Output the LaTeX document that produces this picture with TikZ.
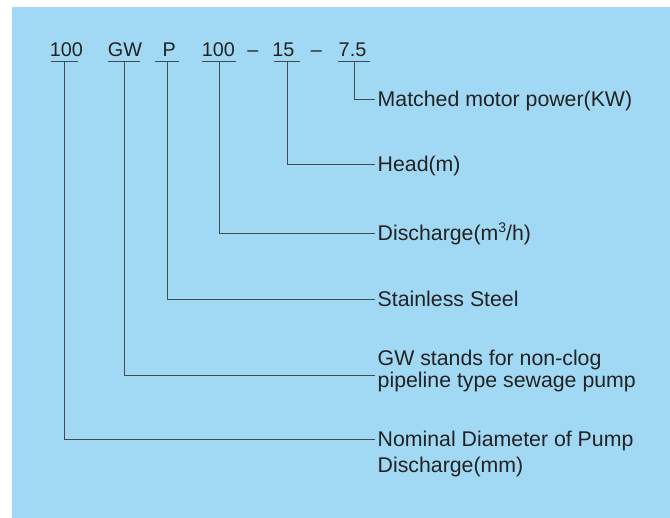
\documentclass[tikz,border=0pt]{standalone}
\usepackage{fontspec}
\setmainfont{Liberation Sans}
\definecolor{panel}{HTML}{A1D9F4}
\definecolor{ink}{HTML}{222222}
\definecolor{leadcol}{HTML}{464A4F}
\newcommand{\cubed}{\raisebox{0.42em}{\fontsize{14bp}{14bp}\selectfont 3}}
\begin{document}
\begin{tikzpicture}[x=1bp,y=-1bp,
  code/.style={anchor=base,inner sep=0pt,text=ink,font=\fontsize{19.8bp}{22bp}\selectfont},
  uline/.style={inner sep=0pt,minimum height=0pt,draw=none},
  lbl/.style={anchor=base west,inner xsep=2.5bp,inner ysep=0pt,text=ink,font=\fontsize{21.3bp}{24bp}\selectfont},
  lead/.style={draw=leadcol,line width=1bp}]
\useasboundingbox (0,0) rectangle (670,518);
\fill[panel] (12,7) rectangle (670,518);

% model code
\node[code] (cDia)  at (66.3,56.7)  {100};
\node[code] (cGW)   at (125,56.7)   {GW};
\node[code] (cP)    at (169.3,56.7) {P};
\node[code] (cQ)    at (218.3,56.7) {100};
\node[code] (dA)    at (252.8,56.7) {–};
\node[code] (cH)    at (283.3,56.7) {15};
\node[code] (dB)    at (316.5,56.7) {–};
\node[code] (cKW)   at (352.5,56.7) {7.5};

% underlines under each part of the code
\node[uline,minimum width=27bp] (uDia) at (64.5,61.5)  {};
\node[uline,minimum width=31bp] (uGW)  at (124,61.5)   {};
\node[uline,minimum width=24bp] (uP)   at (167,61.5)   {};
\node[uline,minimum width=33bp] (uQ)   at (219,61.5)   {};
\node[uline,minimum width=25bp] (uH)   at (287,61.5)   {};
\node[uline,minimum width=31bp] (uKW)  at (354,61.5)   {};
\foreach \u in {uDia,uGW,uP,uQ,uH,uKW}
  \draw[lead] (\u.west) -- (\u.east);

% explanations
\node[lbl] (lKW)   at (375,106.7) {Matched motor power(KW)};
\node[lbl] (lH)    at (375,171.7) {Head(m)};
\node[lbl] (lQ)    at (375,241)   {Discharge(m\cubed/h)};
\node[lbl] (lP)    at (375,306)   {Stainless Steel};
\node[lbl] (lGWa)  at (375,365.7) {GW stands for non-clog};
\node[lbl] (lGWb)  at (375,387.7) {pipeline type sewage pump};
\node[lbl] (lDiaa) at (375,446.7) {Nominal Diameter of Pump};
\node[lbl] (lDiab) at (375,472)   {Discharge(mm)};

% leader lines
\draw[lead] (uKW.center)  |- ([yshift=7.4bp]lKW.base west);
\draw[lead] (uH.center)   |- ([yshift=6.7bp]lH.base west);
\draw[lead] (uQ.center)   |- ([yshift=7bp]lQ.base west);
\draw[lead] (uP.center)   |- ([yshift=7bp]lP.base west);
\draw[lead] (uGW.center)  |- ([yshift=12bp]lGWb.base west);
\draw[lead] (uDia.center) |- ([yshift=7.4bp]lDiaa.base west);
\end{tikzpicture}
\end{document}
